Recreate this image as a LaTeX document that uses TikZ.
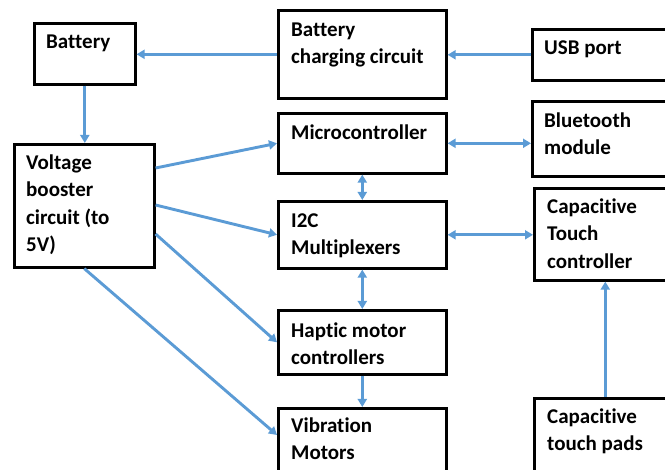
\documentclass[tikz,border=0pt]{standalone}
\usepackage{fontspec}
\setmainfont[Ligatures=NoCommon]{Carlito}
\usetikzlibrary{calc,arrows.meta}
\definecolor{arrowblue}{HTML}{5B9BD5}
\begin{document}
\begin{tikzpicture}[x=1pt,y=-1pt,
  box/.style={draw=black, line width=2.6pt, rectangle, inner sep=0pt, anchor=north west},
  lbl/.style={anchor=north west, inner sep=0pt, align=left, font=\fontsize{21}{27.5}\selectfont\bfseries},
  arr/.style={draw=arrowblue, line width=2.9pt, -{Triangle[length=8pt,width=9pt]}},
  darr/.style={draw=arrowblue, line width=2.9pt, {Triangle[length=8pt,width=9pt]}-{Triangle[length=8pt,width=9pt]}}]
\useasboundingbox (0,0) rectangle (665,470);
\clip (0,0) rectangle (665,470);
% boxes
\node[box, minimum width=101pt, minimum height=61pt] (bat) at (33,22) {};
\node[box, minimum width=168pt, minimum height=88pt] (chg) at (277,9) {};
\node[box, minimum width=144pt, minimum height=51pt] (usb) at (531,28) {};
\node[box, minimum width=140pt, minimum height=123pt] (boost) at (13,143) {};
\node[box, minimum width=168pt, minimum height=60pt] (mcu) at (277,112) {};
\node[box, minimum width=144pt, minimum height=75pt] (bt) at (531,100) {};
\node[box, minimum width=168pt, minimum height=67pt] (i2c) at (277,200) {};
\node[box, minimum width=142pt, minimum height=92pt] (ctc) at (533,187) {};
\node[box, minimum width=168pt, minimum height=64pt] (hap) at (277,309) {};
\node[box, minimum width=168pt, minimum height=80pt] (vib) at (277,407) {};
\node[box, minimum width=142pt, minimum height=90pt] (pad) at (533,397) {};
% labels
\node[lbl] (tbat) at ($(bat.north west)+(13,7.5)$) {\rule{0pt}{19pt}Battery};
\node[lbl] (tchg) at ($(chg.north west)+(14,8)$) {\rule{0pt}{19pt}Battery\\charging circuit};
\node[lbl] (tusb) at ($(usb.north west)+(13,7)$) {\rule{0pt}{19pt}USB port};
\node[lbl] (tboost) at ($(boost.north west)+(13,7)$) {\rule{0pt}{19pt}Voltage\\booster\\circuit (to\\5V)};
\node[lbl] (tmcu) at ($(mcu.north west)+(14,8.5)$) {\rule{0pt}{19pt}Microcontroller};
\node[lbl] (tbt) at ($(bt.north west)+(13,8)$) {\rule{0pt}{19pt}Bluetooth\\module};
\node[lbl] (ti2c) at ($(i2c.north west)+(14,8)$) {\rule{0pt}{19pt}I2C\\Multiplexers};
\node[lbl] (tctc) at ($(ctc.north west)+(14,7)$) {\rule{0pt}{19pt}Capacitive\\Touch\\controller};
\node[lbl] (thap) at ($(hap.north west)+(14,9)$) {\rule{0pt}{19pt}Haptic motor\\controllers};
\node[lbl] (tvib) at ($(vib.north west)+(14,6)$) {\rule{0pt}{19pt}Vibration\\Motors};
\node[lbl] (tpad) at ($(pad.north west)+(14,7)$) {\rule{0pt}{19pt}Capacitive\\touch pads};
% connectors
\draw[arr] (chg.west) -- (chg.west -| bat.east);
\draw[arr] (usb.west) -- (usb.west -| chg.east);
\draw[arr] (bat.south) -- (bat.south |- boost.north);
\draw[arr] ($(boost.north east)+(0,25)$) -- (mcu.west);
\draw[arr] ($(boost.north east)+(0,62)$) -- (i2c.west);
\draw[arr] ($(boost.north east)+(0,91)$) -- (hap.west);
\draw[arr] (boost.south) -- ($(vib.north west)+(0,28)$);
\draw[darr] (mcu.east) -- (mcu.east -| bt.west);
\draw[darr] (mcu.south) -- (i2c.north);
\draw[darr] (i2c.east) -- (i2c.east -| ctc.west);
\draw[darr] (i2c.south) -- (hap.north);
\draw[arr] (hap.south) -- (vib.north);
\draw[arr] (pad.north) -- (pad.north |- ctc.south);
\end{tikzpicture}
\end{document}
